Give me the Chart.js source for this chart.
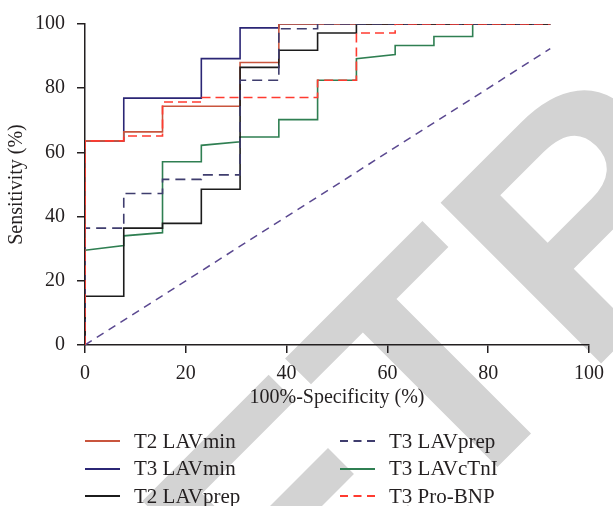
<!DOCTYPE html>
<html>
<head>
<meta charset="utf-8">
<script src="https://cdn.jsdelivr.net/npm/chart.js@4.4.0/dist/chart.umd.min.js"></script>
<style>
  body { margin:0; background:#fff; }
  #wrap { position:relative; width:613px; height:506px; }
  #legend { position:absolute; left:0; top:0; font-family:"Liberation Serif", serif; font-size:21px; color:#231f20; }
  .item { position:absolute; display:flex; align-items:center; white-space:nowrap; }
  .item svg { margin-right:14px; }
</style>
</head>
<body>
<div id="wrap">
  <canvas id="roc" width="613" height="506"></canvas>
  <div id="legend"></div>
</div>
<script>
// ROC curves, x = 100% - specificity, y = sensitivity (both in %)
const xTicks = [0, 20, 40, 60, 80, 100];
const yTicks = [0, 20, 40, 60, 80, 100];

const t2LavminX = [0, 0, 7.69, 7.69, 15.38, 15.38, 30.77, 30.77, 38.46, 38.46, 92.31];
const t2LavminY = [0, 63.6, 63.6, 66.4, 66.4, 74.4, 74.4, 88, 88, 100, 100];

const t3LavminX = [0, 0, 7.69, 7.69, 23.08, 23.08, 30.77, 30.77, 38.46, 38.46, 92.31];
const t3LavminY = [0, 63.6, 63.6, 76.9, 76.9, 89.2, 89.2, 98.8, 98.8, 100, 100];

const t2LavprepX = [0, 0, 7.69, 7.69, 15.38, 15.38, 23.08, 23.08, 30.77, 30.77, 38.46, 38.46, 46.15, 46.15, 53.85, 53.85, 92.31];
const t2LavprepY = [0, 15.2, 15.2, 36.4, 36.4, 37.9, 37.9, 48.5, 48.5, 86.5, 86.5, 91.8, 91.8, 97.2, 97.2, 100, 100];

const t3LavprepX = [0, 0, 7.69, 7.69, 15.38, 15.38, 23.08, 23.08, 30.77, 30.77, 38.46, 38.46, 46.15, 46.15, 92.31];
const t3LavprepY = [0, 36.4, 36.4, 47.2, 47.2, 51.6, 51.6, 53, 53, 82.5, 82.5, 98.5, 98.5, 100, 100];

const t3LavctniX = [0, 0, 7.69, 7.69, 15.38, 15.38, 23.08, 23.08, 30.77, 30.77, 38.46, 38.46, 46.15, 46.15, 53.85, 53.85, 61.54, 61.54, 69.23, 69.23, 76.92, 76.92, 92.31];
const t3LavctniY = [0, 29.5, 31, 34, 35, 57.1, 57.1, 62.2, 63.3, 64.8, 64.8, 70.2, 70.2, 82.5, 82.5, 89.2, 90.5, 93.3, 93.3, 96.1, 96.1, 100, 100];

const t3ProbnpX = [0, 0, 7.69, 7.69, 15.38, 15.38, 23.08, 23.08, 46.15, 46.15, 53.85, 53.85, 61.54, 61.54, 92.31];
const t3ProbnpY = [0, 63.6, 63.6, 65.1, 65.1, 75.7, 75.7, 77.1, 77.1, 82.5, 82.5, 97.2, 97.2, 100, 100];

const refLineX = [0, 92.31];
const refLineY = [0, 92.31];

const axisColor = '#231f20';
const serif = '"Liberation Serif", "Times New Roman", serif';

function pts(xs, ys) {
  return xs.map((x, i) => ({ x: x, y: ys[i] }));
}

// name, x, y, colour, dash, draw order (lower = on top)
const series = [
  { label: 'T2 LAVmin',  x: t2LavminX,  y: t2LavminY,  color: '#c9553d', dash: [],     order: 3 },
  { label: 'T3 LAVmin',  x: t3LavminX,  y: t3LavminY,  color: '#2b2675', dash: [],     order: 4 },
  { label: 'T2 LAVprep', x: t2LavprepX, y: t2LavprepY, color: '#1c1c1c', dash: [],     order: 2 },
  { label: 'T3 LAVprep', x: t3LavprepX, y: t3LavprepY, color: '#3f3d6e', dash: [10, 6], order: 1 },
  { label: 'T3 LAVcTnI', x: t3LavctniX, y: t3LavctniY, color: '#2f7f52', dash: [],     order: 5 },
  { label: 'T3 Pro-BNP', x: t3ProbnpX,  y: t3ProbnpY,  color: '#ff3b30', dash: [9, 5],  order: 0 }
];

const datasets = series.map(s => ({
  label: s.label,
  data: pts(s.x, s.y),
  borderColor: s.color,
  borderDash: s.dash,
  borderWidth: 1.6,
  order: s.order
}));

// chance line
datasets.push({
  label: 'ref',
  data: pts(refLineX, refLineY),
  borderColor: '#5a4890',
  borderDash: [8, 6],
  borderWidth: 1.5,
  order: 9
});

// grey diagonal watermark behind the plot
const watermark = {
  id: 'watermark',
  beforeDraw(chart) {
    const ctx = chart.ctx;
    ctx.save();
    ctx.rotate(-Math.PI / 4);
    ctx.fillStyle = '#d3d3d3';
    ctx.font = 'bold 330px "Liberation Sans", Arial, sans-serif';
    ctx.textBaseline = 'alphabetic';
    ctx.fillText('RETRACTED', -514, 682);
    ctx.restore();
  }
};

new Chart(document.getElementById('roc'), {
  type: 'scatter',
  data: { datasets: datasets },
  plugins: [watermark],
  options: {
    responsive: false,
    animation: false,
    showLine: true,
    elements: { point: { radius: 0, hoverRadius: 0 }, line: { tension: 0, fill: false } },
    layout: { padding: { left: 0, top: 20, right: 16, bottom: 91 } },
    plugins: { legend: { display: false }, tooltip: { enabled: false } },
    scales: {
      x: {
        type: 'linear', min: 0, max: 100,
        afterBuildTicks: s => { s.ticks = xTicks.map(v => ({ value: v })); },
        afterFit: s => { s.height = 70; },
        ticks: { color: axisColor, padding: 9, maxRotation: 0, font: { family: serif, size: 20 } },
        grid: { drawOnChartArea: false, tickLength: 8, color: axisColor, lineWidth: 1.5 },
        border: { color: axisColor, width: 1.5 },
        title: { display: true, text: '100%-Specificity (%)', color: axisColor, padding: { top: 0, bottom: 5 }, font: { family: serif, size: 20 } }
      },
      y: {
        type: 'linear', min: 0, max: 100,
        afterBuildTicks: s => { s.ticks = yTicks.map(v => ({ value: v })); },
        afterFit: s => { s.width = 85; },
        ticks: { color: axisColor, padding: 12, font: { family: serif, size: 20 } },
        grid: { drawOnChartArea: false, tickLength: 8, color: axisColor, lineWidth: 1.5 },
        border: { color: axisColor, width: 1.5 },
        title: { display: true, text: 'Sensitivity (%)', color: axisColor, padding: { top: 5, bottom: 0 }, font: { family: serif, size: 20 } }
      }
    }
  }
});

// legend in two columns under the plot
const legend = document.getElementById('legend');
const colX = [85, 340];
const rowY = [441, 468.5, 496];
series.forEach((s, i) => {
  const col = Math.floor(i / 3), row = i % 3;
  const item = document.createElement('div');
  item.className = 'item';
  item.style.left = colX[col] + 'px';
  item.style.top = (rowY[row] - 12) + 'px';
  item.style.height = '24px';
  const dash = s.dash.length ? 'stroke-dasharray="8 5.5"' : '';
  item.innerHTML = '<svg width="35" height="6"><line x1="0" y1="3" x2="35" y2="3" stroke="' + s.color +
    '" stroke-width="2" ' + dash + '/></svg><span>' + s.label + '</span>';
  legend.appendChild(item);
});
</script>
</body>
</html>
